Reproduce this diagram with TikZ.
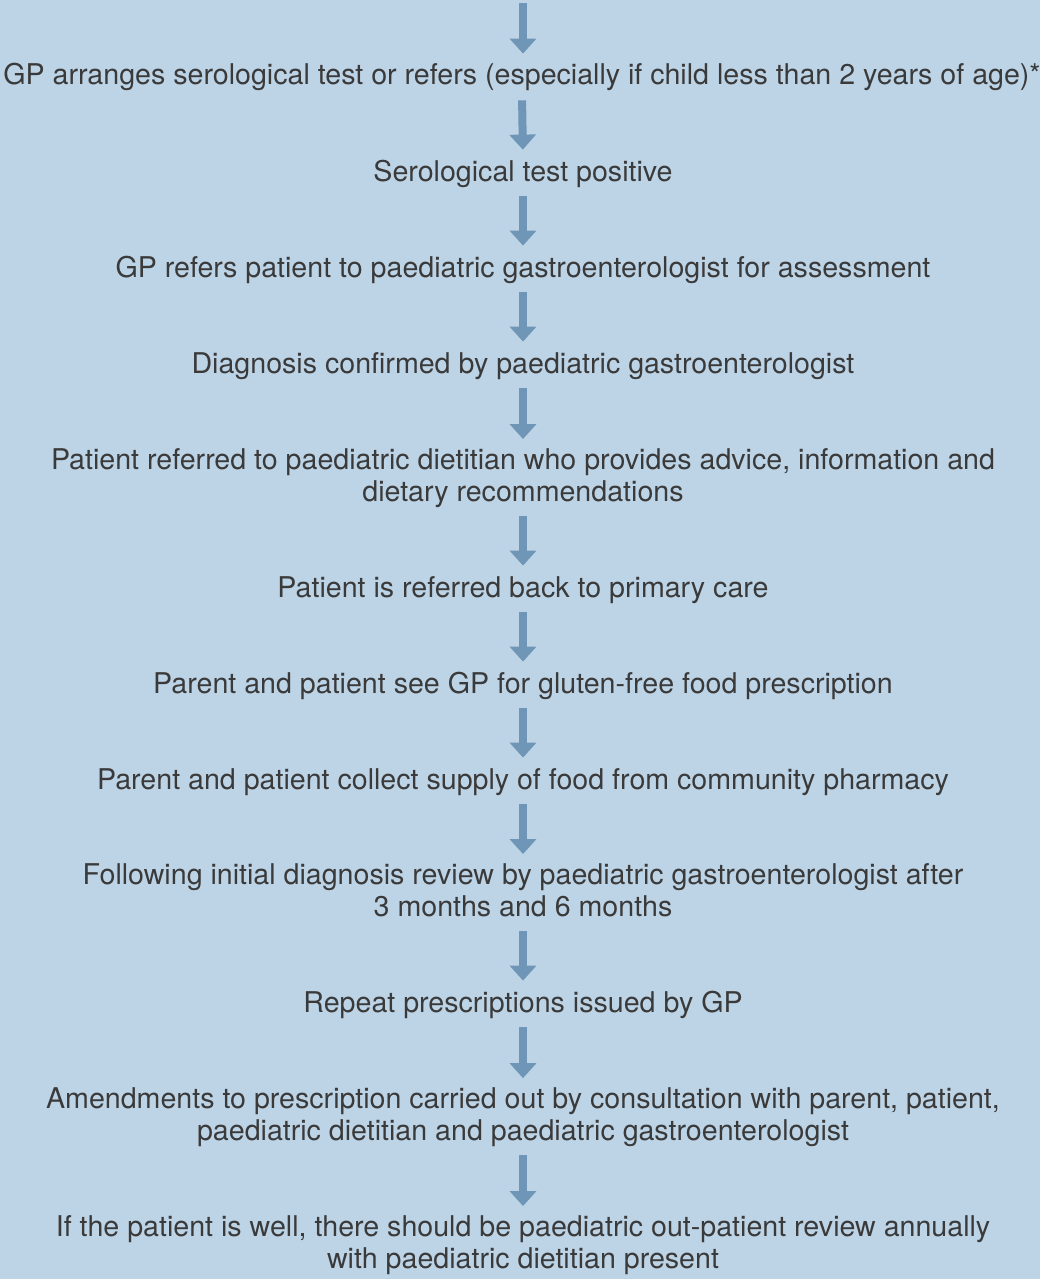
\documentclass[tikz,border=0pt]{standalone}
\usepackage{fontspec}
\setmainfont{TeX Gyre Heros}
\usepackage{xcolor}
\usepackage{tikz}
\usetikzlibrary{arrows.meta}
\definecolor{pagebg}{HTML}{BDD4E7}
\definecolor{flow}{HTML}{6F96B6}
\definecolor{ink}{HTML}{3A3A3A}
\tikzset{
  stepnode/.style={
    font=\fontsize{14.3}{16}\selectfont,
    text=ink,
    align=center,
    anchor=base,
    inner sep=0pt,
    execute at begin node=\strut,
    execute at end node=\strut
  },
  flowarrow/.style={
    -{Triangle[width=13pt,length=7.5pt]},
    line width=4pt,
    draw=flow,
    shorten <=2.7pt,
    shorten >=4.3pt
  }
}

\begin{document}
\begin{tikzpicture}[x=0.5pt, y=-0.5pt]
  \fill[pagebg] (0,0) rectangle (1040,1279);
  \useasboundingbox (0,0) rectangle (1040,1279);

  % base anchor of a two-line node sits on its last line
  \coordinate (top) at (523,3);
  \node[stepnode] (serotest) at (522,85)
    {GP arranges serological test or refers (especially if child less than 2 years of age)*};
  \node[stepnode] (positive) at (523,181) {Serological test positive};
  \node[stepnode] (refer) at (523,277)
    {GP refers patient to paediatric gastroenterologist for assessment};
  \node[stepnode] (confirm) at (523,373)
    {Diagnosis confirmed by paediatric gastroenterologist};
  \node[stepnode] (dietitian) at (523,501)
    {Patient referred to paediatric dietitian who provides advice, information and\\dietary recommendations};
  \node[stepnode] (backcare) at (523,597) {Patient is referred back to primary care};
  \node[stepnode] (prescribe) at (523,693)
    {Parent and patient see GP for gluten-free food prescription};
  \node[stepnode] (collect) at (523,789)
    {Parent and patient collect supply of food from community pharmacy};
  \node[stepnode] (review) at (523,916)
    {Following initial diagnosis review by paediatric gastroenterologist after\\3 months and 6 months};
  \node[stepnode] (repeat) at (523,1012) {Repeat prescriptions issued by GP};
  \node[stepnode] (amend) at (523,1140)
    {Amendments to prescription carried out by consultation with parent, patient,\\paediatric dietitian and paediatric gastroenterologist};
  \node[stepnode] (annual) at (523,1268)
    {If the patient is well, there should be paediatric out-patient review annually\\with paediatric dietitian present};

  \draw[flowarrow, shorten <=0pt] (top) -- (top |- serotest.north);
  \draw[flowarrow] (serotest.south) -- (positive.north);
  \draw[flowarrow] (positive.south) -- (refer.north);
  \draw[flowarrow] (refer.south) -- (confirm.north);
  \draw[flowarrow] (confirm.south) -- (dietitian.north);
  \draw[flowarrow] (dietitian.south) -- (backcare.north);
  \draw[flowarrow] (backcare.south) -- (prescribe.north);
  \draw[flowarrow] (prescribe.south) -- (collect.north);
  \draw[flowarrow] (collect.south) -- (review.north);
  \draw[flowarrow] (review.south) -- (repeat.north);
  \draw[flowarrow] (repeat.south) -- (amend.north);
  \draw[flowarrow] (amend.south) -- (annual.north);
\end{tikzpicture}
\end{document}
